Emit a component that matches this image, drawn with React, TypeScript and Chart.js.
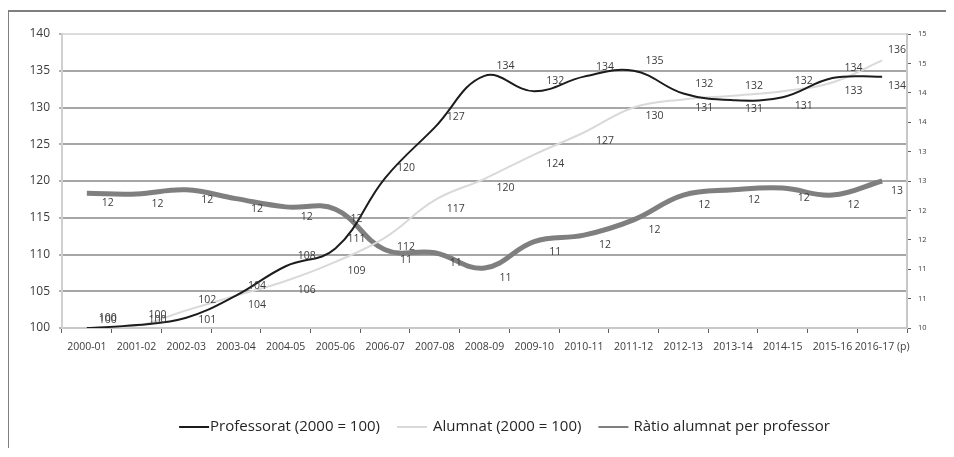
import React, { useEffect, useRef } from 'react';
import { Chart, registerables } from 'chart.js';

Chart.register(...registerables);

const categories = [
  '2000-01', '2001-02', '2002-03', '2003-04', '2004-05', '2005-06', '2006-07', '2007-08', '2008-09',
  '2009-10', '2010-11', '2011-12', '2012-13', '2013-14', '2014-15', '2015-16', '2016-17 (p)',
];

const professorat = [100, 100.4, 101.4, 104.4, 108.4, 110.8, 120.4, 127.3, 134.3, 132.2, 134.2, 135.0, 131.9, 131.0, 131.4, 134.0, 134.2];
const alumnat = [100, 100.3, 102.4, 104.4, 106.4, 109.0, 112.3, 117.4, 120.3, 123.6, 126.6, 130.0, 131.1, 131.6, 132.2, 133.4, 136.4];
const ratio = [12.29, 12.28, 12.35, 12.2, 12.06, 12.02, 11.33, 11.28, 11.02, 11.47, 11.58, 11.84, 12.26, 12.35, 12.38, 12.26, 12.5];

const seriesNames = ['Professorat (2000 = 100)', 'Alumnat (2000 = 100)', 'Ràtio alumnat per professor'];

const leftTicks = { min: 100, max: 140, step: 5 };
const rightTicks = { min: 10, max: 15, step: 0.5 };

const FONT = "'Open Sans', sans-serif";
const TEXT = '#3c3c3c';

const valueLabels = {
  id: 'valueLabels',
  afterDatasetsDraw(chart: any) {
    const ctx = chart.ctx;
    const area = chart.chartArea;
    const m0 = chart.getDatasetMeta(0);
    const m1 = chart.getDatasetMeta(1);
    const m2 = chart.getDatasetMeta(2);
    ctx.save();
    ctx.font = `10.5px ${FONT}`;
    ctx.fillStyle = TEXT;
    ctx.textAlign = 'center';
    ctx.textBaseline = 'middle';
    const dx = 21;
    const clampX = (x: number) => Math.min(x, area.right - 10);
    categories.forEach((_, i) => {
      const p = m0.data[i];
      const a = m1.data[i];
      const r = m2.data[i];
      const profHigher = professorat[i] >= alumnat[i];
      let py = p.y + (profHigher ? -10 : 9);
      let ay = a.y + (profHigher ? 9 : -10);
      py = Math.min(py, area.bottom - 8);
      ay = Math.min(ay, area.bottom - 8);
      ctx.fillText(String(Math.round(professorat[i])), clampX(p.x + dx), py);
      ctx.fillText(String(Math.round(alumnat[i])), clampX(a.x + dx), ay);
      ctx.fillText(String(Math.round(ratio[i])), clampX(r.x + dx), r.y + 10);
    });
    ctx.restore();
  },
};

const bottomLegend = {
  id: 'bottomLegend',
  afterDraw(chart: any) {
    const ctx = chart.ctx;
    const area = chart.chartArea;
    const ds = chart.data.datasets;
    ctx.save();
    ctx.font = `15px ${FONT}`;
    ctx.textBaseline = 'middle';
    ctx.textAlign = 'left';
    const lineLen = 30;
    const gapTexts = [1, 6, 5];
    const gapItems = 17;
    const widths = ds.map((d: any) => ctx.measureText(d.label).width);
    const total =
      widths.reduce((s: number, w: number, i: number) => s + lineLen + gapTexts[i] + w, 0) +
      gapItems * (ds.length - 1);
    const cx = (area.left + area.right) / 2 + 20;
    const y = chart.height - 23;
    let x = cx - total / 2;
    ds.forEach((d: any, i: number) => {
      ctx.strokeStyle = d.borderColor;
      ctx.lineWidth = 2;
      ctx.beginPath();
      ctx.moveTo(x, y);
      ctx.lineTo(x + lineLen, y);
      ctx.stroke();
      x += lineLen + gapTexts[i];
      ctx.fillStyle = '#262626';
      ctx.fillText(d.label, x, y);
      x += widths[i] + gapItems;
    });
    ctx.restore();
  },
};

export default function App() {
  const ref = useRef<HTMLCanvasElement | null>(null);

  useEffect(() => {
    document.body.style.overflow = 'hidden';
    const canvas = ref.current;
    if (!canvas) return;
    const chart = new Chart(canvas, {
      type: 'line',
      data: {
        labels: categories,
        datasets: [
          {
            label: seriesNames[0],
            data: professorat,
            borderColor: '#1c1c1c',
            borderWidth: 2,
            yAxisID: 'y',
            tension: 0.4,
            pointRadius: 0,
            pointHoverRadius: 0,
            fill: false,
          },
          {
            label: seriesNames[1],
            data: alumnat,
            borderColor: '#d9d9d9',
            borderWidth: 2,
            yAxisID: 'y',
            tension: 0.4,
            pointRadius: 0,
            pointHoverRadius: 0,
            fill: false,
          },
          {
            label: seriesNames[2],
            data: ratio,
            borderColor: '#7f7f7f',
            borderWidth: 5,
            yAxisID: 'y1',
            tension: 0.4,
            pointRadius: 0,
            pointHoverRadius: 0,
            fill: false,
          },
        ],
      },
      options: {
        responsive: false,
        animation: false,
        events: [],
        layout: { padding: { top: 22, left: 0, right: 0, bottom: 0 } },
        plugins: {
          legend: { display: false },
          tooltip: { enabled: false },
        },
        scales: {
          x: {
            type: 'category',
            offset: true,
            grid: {
              offset: true,
              drawOnChartArea: false,
              drawTicks: true,
              tickLength: 5,
              tickColor: '#606060',
              tickWidth: 1,
            },
            border: { color: '#c8c8c8', width: 2 },
            ticks: {
              font: { family: FONT, size: 10.5 },
              color: TEXT,
              maxRotation: 0,
              autoSkip: false,
              padding: 8,
            },
            afterFit: (s: any) => {
              s.height = 122;
            },
          },
          y: {
            type: 'linear',
            position: 'left',
            min: leftTicks.min,
            max: leftTicks.max,
            grid: {
              color: (c: any) =>
                c.tick && c.tick.value === leftTicks.max
                  ? '#dcdcdc'
                  : c.tick && c.tick.value === leftTicks.min
                  ? '#c8c8c8'
                  : '#a6a6a6',
              lineWidth: 2,
              tickColor: '#606060',
              tickLength: 3,
              tickWidth: 1,
            },
            border: { color: '#d0d0d0', width: 2 },
            ticks: {
              stepSize: leftTicks.step,
              font: { family: FONT, size: 12 },
              color: TEXT,
              padding: 9,
            },
            afterFit: (s: any) => {
              s.width = 53;
            },
          },
          y1: {
            type: 'linear',
            position: 'right',
            min: rightTicks.min,
            max: rightTicks.max,
            grid: {
              drawOnChartArea: false,
              tickColor: '#606060',
              tickLength: 4,
              tickWidth: 1,
            },
            border: { color: '#c8c8c8', width: 2 },
            ticks: {
              stepSize: rightTicks.step,
              font: { family: FONT, size: 7.5 },
              color: TEXT,
              padding: 7,
              callback: (v: any) => String(Math.round(Number(v))),
            },
            afterFit: (s: any) => {
              s.width = 46;
            },
          },
        },
      },
      plugins: [valueLabels, bottomLegend],
    });
    return () => chart.destroy();
  }, []);

  return (
    <div
      style={{
        position: 'relative',
        left: -1,
        top: 2,
        width: 945,
        height: 438,
        borderLeft: '2px solid #7f7f7f',
        borderTop: '2px solid #7f7f7f',
      }}
    >
      <canvas ref={ref} width={944} height={438} style={{ display: 'block', width: 944, height: 438 }} />
    </div>
  );
}
